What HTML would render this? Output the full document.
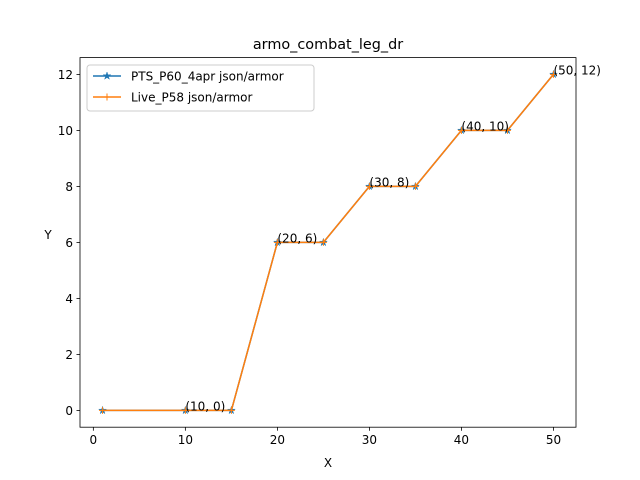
<!DOCTYPE html>
<html><head><meta charset="utf-8"><style>
body{margin:0;background:#fff;}
svg{display:block;font-family:"DejaVu Sans","Liberation Sans",sans-serif;}
</style></head><body>
<svg id="chart" width="640" height="480"></svg>
<script>
const xValues=[1,10,15,20,25,30,35,40,45,50];
const seriesA=[0,0,0,6,6,8,8,10,10,12];
const seriesB=[0,0,0,6,6,8,8,10,10,12];
const xTicks=[0,10,20,30,40,50];
const yTicks=[0,2,4,6,8,10,12];
const labels=["PTS_P60_4apr json/armor","Live_P58 json/armor"];

const L=80,R=576,T=57.6,B=427.2;
const xmin=-1.45,xmax=52.45,ymin=-0.6,ymax=12.6;
const sx=v=>L+(v-xmin)/(xmax-xmin)*(R-L);
const sy=v=>B-(v-ymin)/(ymax-ymin)*(B-T);
const svg=document.getElementById('chart');
const NS='http://www.w3.org/2000/svg';
function mk(tag,attrs,parent){const e=document.createElementNS(NS,tag);for(const k in attrs)e.setAttribute(k,attrs[k]);(parent||svg).appendChild(e);return e;}

let t=mk('text',{x:(L+R)/2,y:49,'text-anchor':'middle','font-size':'14.4'});
t.textContent='armo_combat_leg_dr';



xTicks.forEach(v=>{
  const g=mk('g',{});
  
  
  mk('line',{x1:sx(v),x2:sx(v),y1:B,y2:B+3.5,stroke:'#000','stroke-width':0.8},g);
  const tx=mk('text',{x:sx(v),y:B+17,'text-anchor':'middle','font-size':'12'},g);tx.textContent=v;
});
yTicks.forEach(v=>{
  const g=mk('g',{});
  
  
  mk('line',{x1:L-3.5,x2:L,y1:sy(v),y2:sy(v),stroke:'#000','stroke-width':0.8},g);
  const tx=mk('text',{x:L-7,y:sy(v)+4.5,'text-anchor':'end','font-size':'12'},g);tx.textContent=v;
});
t=mk('text',{x:(L+R)/2,y:467,'text-anchor':'middle','font-size':'12'});t.textContent='X';


t=mk('text',{x:48,y:239,'text-anchor':'middle','font-size':'12'});t.textContent='Y';



function star(cx,cy,r,color,parent){
  let p=[];for(let i=0;i<10;i++){const a=-Math.PI/2+i*Math.PI/5;const rr=i%2?r*0.38:r;p.push((cx+rr*Math.cos(a)).toFixed(1)+','+(cy+rr*Math.sin(a)).toFixed(1));}
  mk('polygon',{points:p.join(' '),fill:color,stroke:color,'stroke-width':0.5},parent);
}
function series(vals,color,marker,name){
  const g=mk('g',{});
  
  
  mk('polyline',{points:xValues.map((x,i)=>sx(x)+','+sy(vals[i])).join(' '),fill:'none',stroke:color,'stroke-width':1.5},g);
  xValues.forEach((x,i)=>{
    if(marker==='star')star(sx(x),sy(vals[i]),4,color,g);
    else{mk('line',{x1:sx(x)-3.5,x2:sx(x)+3.5,y1:sy(vals[i]),y2:sy(vals[i]),stroke:color,'stroke-width':1},g);
         mk('line',{x1:sx(x),x2:sx(x),y1:sy(vals[i])-3.5,y2:sy(vals[i])+3.5,stroke:color,'stroke-width':1},g);}
  });
}
series(seriesA,'#1f77b4','star','series-pts-p60');
series(seriesB,'#ff7f0e','plus','series-live-p58');

xValues.forEach((x,i)=>{
  if(x%10!==0)return;
  const a=mk('text',{x:sx(x),y:sy(seriesA[i]),'font-size':'12'});
  a.textContent='('+x+', '+seriesA[i]+')';
  
  
});

mk('rect',{x:L,y:T,width:R-L,height:B-T,fill:'none',stroke:'#000','stroke-width':0.8});

const lg=mk('g',{});


mk('rect',{x:87,y:65,width:227,height:46,rx:3,fill:'#fff','fill-opacity':0.8,stroke:'#ccc','stroke-width':1},lg);
[['#1f77b4','star'],['#ff7f0e','plus']].forEach((s,i)=>{
  const y=76+i*21;
  const e=mk('g',{},lg);
  
  
  mk('line',{x1:93,x2:121,y1:y,y2:y,stroke:s[0],'stroke-width':1.5},e);
  if(s[1]==='star')star(107,y,4,s[0],e);
  else{mk('line',{x1:103.5,x2:110.5,y1:y,y2:y,stroke:s[0]},e);mk('line',{x1:107,x2:107,y1:y-3.5,y2:y+3.5,stroke:s[0]},e);}
  const tx=mk('text',{x:131,y:y+4.5,'font-size':'12'},e);tx.textContent=labels[i];
});
</script>
</body></html>
